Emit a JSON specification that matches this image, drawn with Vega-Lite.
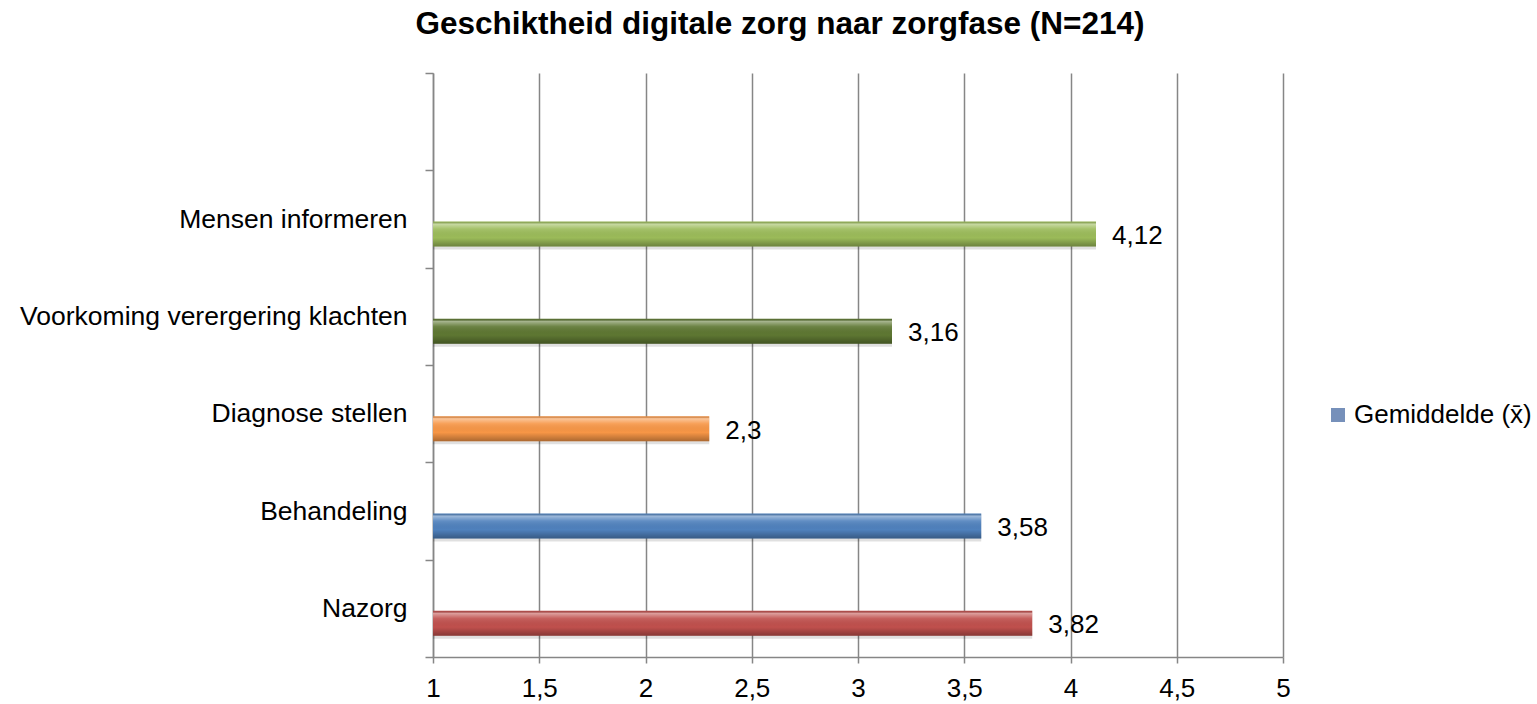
{
  "$schema": "https://vega.github.io/schema/vega-lite/v6.json",
  "autosize": "none",
  "width": 850,
  "height": 584,
  "padding": {"left": 433, "top": 73, "right": 254, "bottom": 47},
  "background": "white",
  "config": {"font": "Liberation Sans", "view": {"stroke": null}},
  "title": {
    "text": "Geschiktheid digitale zorg naar zorgfase (N=214)",
    "fontSize": 31.5,
    "fontWeight": "bold",
    "font": "Liberation Sans",
    "color": "#000000",
    "anchor": "middle",
    "frame": "group",
    "dx": -78,
    "offset": 20
  },
  "data": {
    "values": [
      {"fase": "Mensen informeren", "gemiddelde": 4.12, "label": "4,12", "reeks": "Gemiddelde (x\u0304)"},
      {"fase": "Voorkoming verergering klachten", "gemiddelde": 3.16, "label": "3,16", "reeks": "Gemiddelde (x\u0304)"},
      {"fase": "Diagnose stellen", "gemiddelde": 2.3, "label": "2,3", "reeks": "Gemiddelde (x\u0304)"},
      {"fase": "Behandeling", "gemiddelde": 3.58, "label": "3,58", "reeks": "Gemiddelde (x\u0304)"},
      {"fase": "Nazorg", "gemiddelde": 3.82, "label": "3,82", "reeks": "Gemiddelde (x\u0304)"}
    ]
  },
  "encoding": {
    "y": {
      "field": "fase",
      "type": "nominal",
      "scale": {
        "domain": [" ", "Mensen informeren", "Voorkoming verergering klachten", "Diagnose stellen", "Behandeling", "Nazorg"],
        "paddingInner": 0,
        "paddingOuter": 0
      },
      "axis": {
        "title": null,
        "tickBand": "extent",
        "ticks": true,
        "tickSize": 8,
        "tickColor": "#868686",
        "tickWidth": 1.5,
        "domainColor": "#868686",
        "domainWidth": 1.5,
        "labelFontSize": 26.5,
        "labelColor": "#000000",
        "labelPadding": 18,
        "labelLimit": 0,
        "grid": false
      }
    },
    "x": {
      "field": "gemiddelde",
      "type": "quantitative",
      "scale": {"domain": [1, 5], "zero": false, "nice": false},
      "axis": {
        "title": null,
        "values": [1, 1.5, 2, 2.5, 3, 3.5, 4, 4.5, 5],
        "grid": true,
        "gridColor": "#868686",
        "gridWidth": 1.5,
        "tickSize": 6,
        "tickColor": "#868686",
        "tickWidth": 1.5,
        "domainColor": "#868686",
        "domainWidth": 1.5,
        "labelExpr": "replace(format(datum.value, '~g'), '.', ',')",
        "labelFontSize": 26,
        "labelColor": "#000000",
        "labelPadding": 12,
        "labelFlush": false
      }
    }
  },
  "layer": [
    {
      "mark": {"type": "bar", "height": 25, "yOffset": 18, "color": "#000000", "opacity": 0.12},
      "encoding": {"x2": {"datum": 1}}
    },
    {
      "mark": {"type": "bar", "height": 25, "yOffset": 15},
      "encoding": {
        "x2": {"datum": 1},
        "color": {
          "field": "fase",
          "type": "nominal",
          "scale": {
            "domain": ["Mensen informeren", "Voorkoming verergering klachten", "Diagnose stellen", "Behandeling", "Nazorg"],
            "range": ["#9BBB59", "#5E7732", "#F79646", "#4F81BD", "#C0504D"]
          },
          "legend": null
        }
      }
    },
    {
      "mark": {
        "type": "bar",
        "height": 25,
        "yOffset": 15,
        "fill": {
          "gradient": "linear",
          "x1": 0, "y1": 0, "x2": 0, "y2": 1,
          "stops": [
            {"offset": 0, "color": "rgba(0,0,0,0.05)"},
            {"offset": 0.1, "color": "rgba(255,255,255,0.45)"},
            {"offset": 0.3, "color": "rgba(255,255,255,0.1)"},
            {"offset": 0.65, "color": "rgba(0,0,0,0)"},
            {"offset": 1, "color": "rgba(0,0,0,0.3)"}
          ]
        }
      },
      "encoding": {"x2": {"datum": 1}}
    },
    {
      "mark": {"type": "bar", "height": 25, "yOffset": 15, "opacity": 0},
      "encoding": {
        "x2": {"datum": 1},
        "color": {
          "field": "reeks",
          "type": "nominal",
          "scale": {"range": ["#7690BA"]},
          "legend": {
            "title": null,
            "orient": "none",
            "legendX": 892,
            "legendY": 329,
            "symbolType": "square",
            "symbolSize": 196,
            "symbolOpacity": 1,
            "symbolStrokeWidth": 0,
            "labelFontSize": 26,
            "labelColor": "#000000",
            "labelFont": "Liberation Sans",
            "labelLimit": 0,
            "padding": 0,
            "labelOffset": 3
          }
        }
      }
    },
    {
      "mark": {"type": "text", "align": "left", "baseline": "middle", "dx": 16, "yOffset": 17, "fontSize": 26, "color": "#000000"},
      "encoding": {"text": {"field": "label", "type": "nominal"}}
    }
  ],
  "resolve": {"scale": {"color": "independent"}}
}
